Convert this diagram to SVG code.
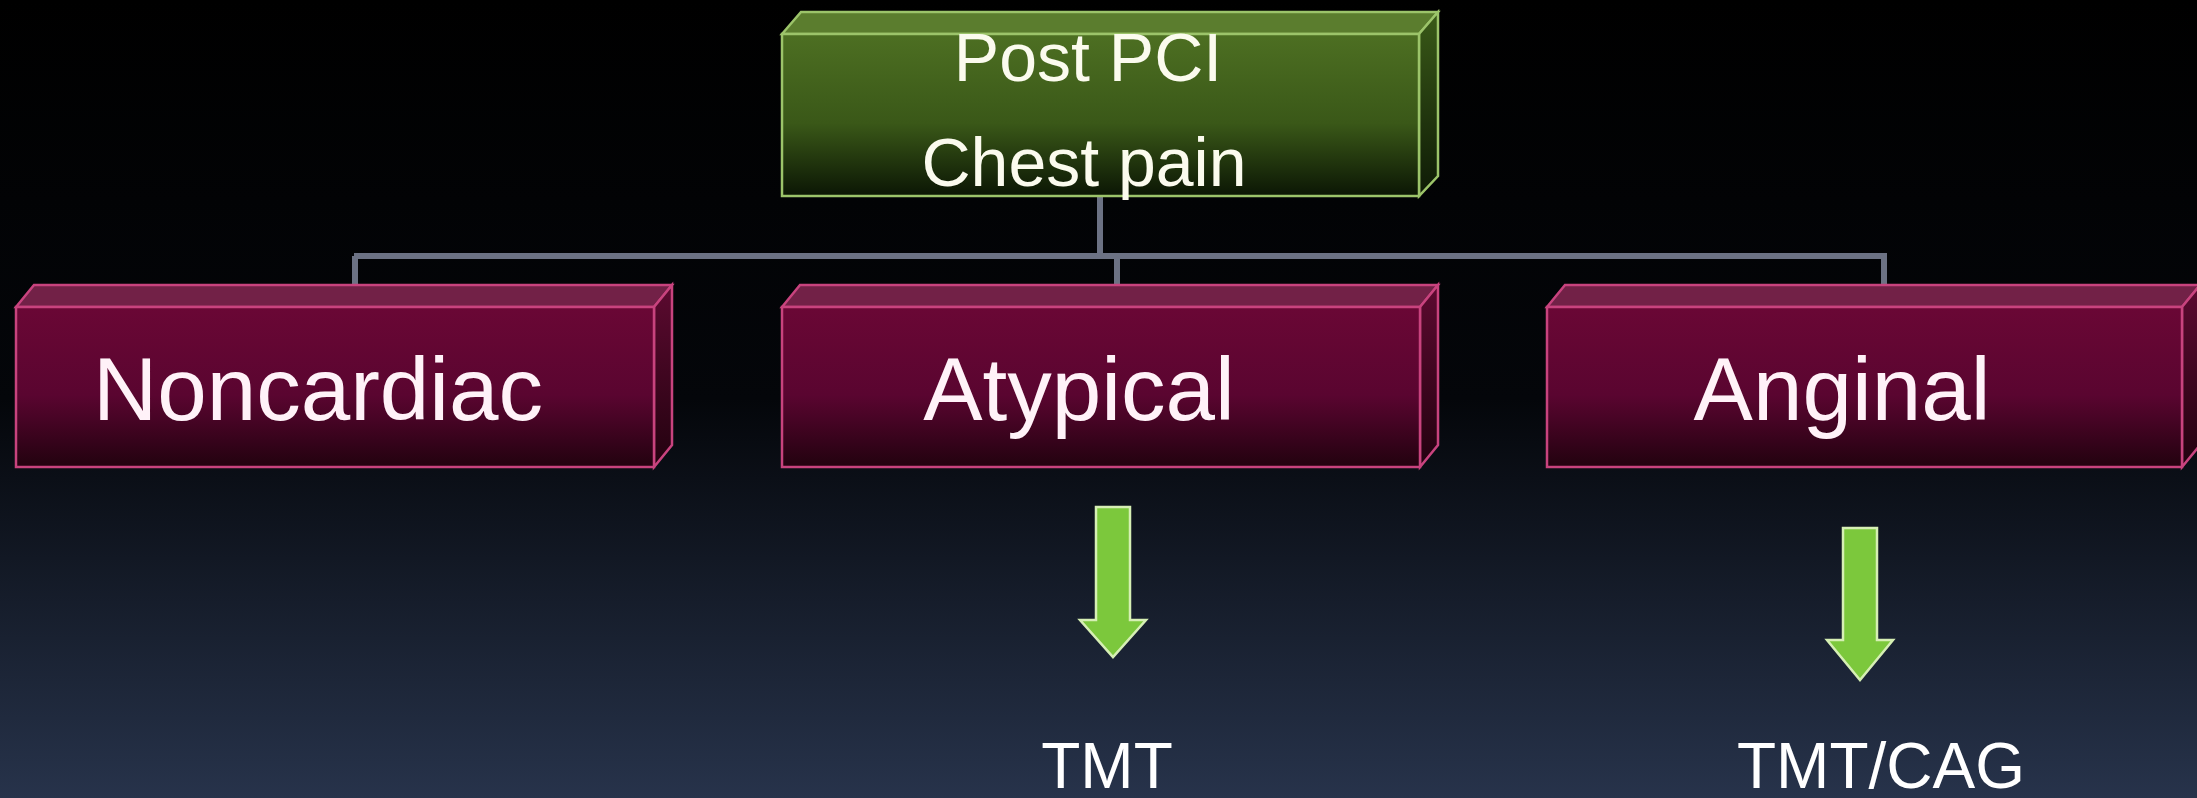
<svg xmlns="http://www.w3.org/2000/svg" width="2197" height="798" viewBox="0 0 2197 798">
  <defs>
    <linearGradient id="bg" x1="0" y1="0" x2="0" y2="1">
      <stop offset="0" stop-color="#000000"/>
      <stop offset="0.5" stop-color="#04060a"/>
      <stop offset="1" stop-color="#27334b"/>
    </linearGradient>
    <linearGradient id="greenFront" x1="0" y1="0" x2="0" y2="1">
      <stop offset="0" stop-color="#4d6f22"/>
      <stop offset="0.55" stop-color="#3a5818"/>
      <stop offset="1" stop-color="#0b1604"/>
    </linearGradient>
    <linearGradient id="greenSide" x1="0" y1="0" x2="0" y2="1">
      <stop offset="0" stop-color="#3a5a18"/>
      <stop offset="1" stop-color="#0e1a06"/>
    </linearGradient>
    <linearGradient id="redFront" x1="0" y1="0" x2="0" y2="1">
      <stop offset="0" stop-color="#6a0735"/>
      <stop offset="0.55" stop-color="#5a0530"/>
      <stop offset="1" stop-color="#22020f"/>
    </linearGradient>
    <linearGradient id="redSide" x1="0" y1="0" x2="0" y2="1">
      <stop offset="0" stop-color="#5c0a30"/>
      <stop offset="1" stop-color="#22020f"/>
    </linearGradient>
  </defs>
  <style>
    .gfront { fill: url(#greenFront); stroke: #9cc46a; stroke-width: 2.5; }
    .gtop { fill: #5b7d2e; stroke: #9cc46a; stroke-width: 2.5; }
    .gside { fill: url(#greenSide); stroke: #9cc46a; stroke-width: 2.5; }
    .rfront { fill: url(#redFront); stroke: #c8437e; stroke-width: 2.5; }
    .rtop { fill: #722147; stroke: #c8437e; stroke-width: 2.5; }
    .rside { fill: url(#redSide); stroke: #c8437e; stroke-width: 2.5; }
    .conn { stroke: #6c7284; stroke-width: 6; fill: none; }
    .arrow { fill: #7cc83c; stroke: #d6efb4; stroke-width: 2.5; }
    .title { font-family: "Liberation Sans", Arial, sans-serif; font-size: 68px; fill: #fbfbee; text-anchor: middle; }
    .cat { font-family: "Liberation Sans", Arial, sans-serif; font-size: 89px; fill: #fff2f8; text-anchor: middle; }
    .res { font-family: "Liberation Sans", Arial, sans-serif; font-size: 64px; fill: #ffffff; text-anchor: middle; }
  </style>
  <rect x="0" y="0" width="2197" height="798" fill="url(#bg)"/>

  <g id="connectors">
    <line class="conn" x1="1100" y1="196" x2="1100" y2="256"/>
    <line class="conn" x1="354" y1="256" x2="1887" y2="256"/>
    <line class="conn" x1="355" y1="256" x2="355" y2="285"/>
    <line class="conn" x1="1117" y1="256" x2="1117" y2="285"/>
    <line class="conn" x1="1884" y1="256" x2="1884" y2="285"/>
    <polygon class="arrow" points="1096,507 1130,507 1130,620 1146,620 1113,657 1080,620 1096,620"/>
    <polygon class="arrow" points="1843,528 1877,528 1877,640 1893,640 1860,680 1827,640 1843,640"/>
  </g>

  <g id="node-post-pci">
    <polygon class="gtop" points="782,34 801,12 1438,12 1419,34"/>
    <polygon class="gside" points="1419,34 1438,12 1438,176 1419,196"/>
    <rect class="gfront" x="782" y="34" width="637" height="162"/>
    <text class="title" x="1088" y="81">Post PCI</text>
    <text class="title" x="1084" y="186">Chest pain</text>
  </g>

  <g id="node-noncardiac">
    <polygon class="rtop" points="16,307 34,285 672,285 654,307"/>
    <polygon class="rside" points="654,307 672,285 672,445 654,467"/>
    <rect class="rfront" x="16" y="307" width="638" height="160"/>
    <text class="cat" x="318" y="420">Noncardiac</text>
  </g>

  <g id="node-atypical">
    <polygon class="rtop" points="782,307 800,285 1438,285 1420,307"/>
    <polygon class="rside" points="1420,307 1438,285 1438,445 1420,467"/>
    <rect class="rfront" x="782" y="307" width="638" height="160"/>
    <text class="cat" x="1079" y="420">Atypical</text>
  </g>

  <g id="node-anginal">
    <polygon class="rtop" points="1547,307 1565,285 2200,285 2182,307"/>
    <polygon class="rside" points="2182,307 2200,285 2200,445 2182,467"/>
    <rect class="rfront" x="1547" y="307" width="635" height="160"/>
    <text class="cat" x="1842" y="420">Anginal</text>
  </g>

  <g id="node-tmt">
    <text class="res" x="1107" y="788">TMT</text>
  </g>

  <g id="node-tmt-cag">
    <text class="res" x="1881" y="788">TMT/CAG</text>
  </g>
</svg>
